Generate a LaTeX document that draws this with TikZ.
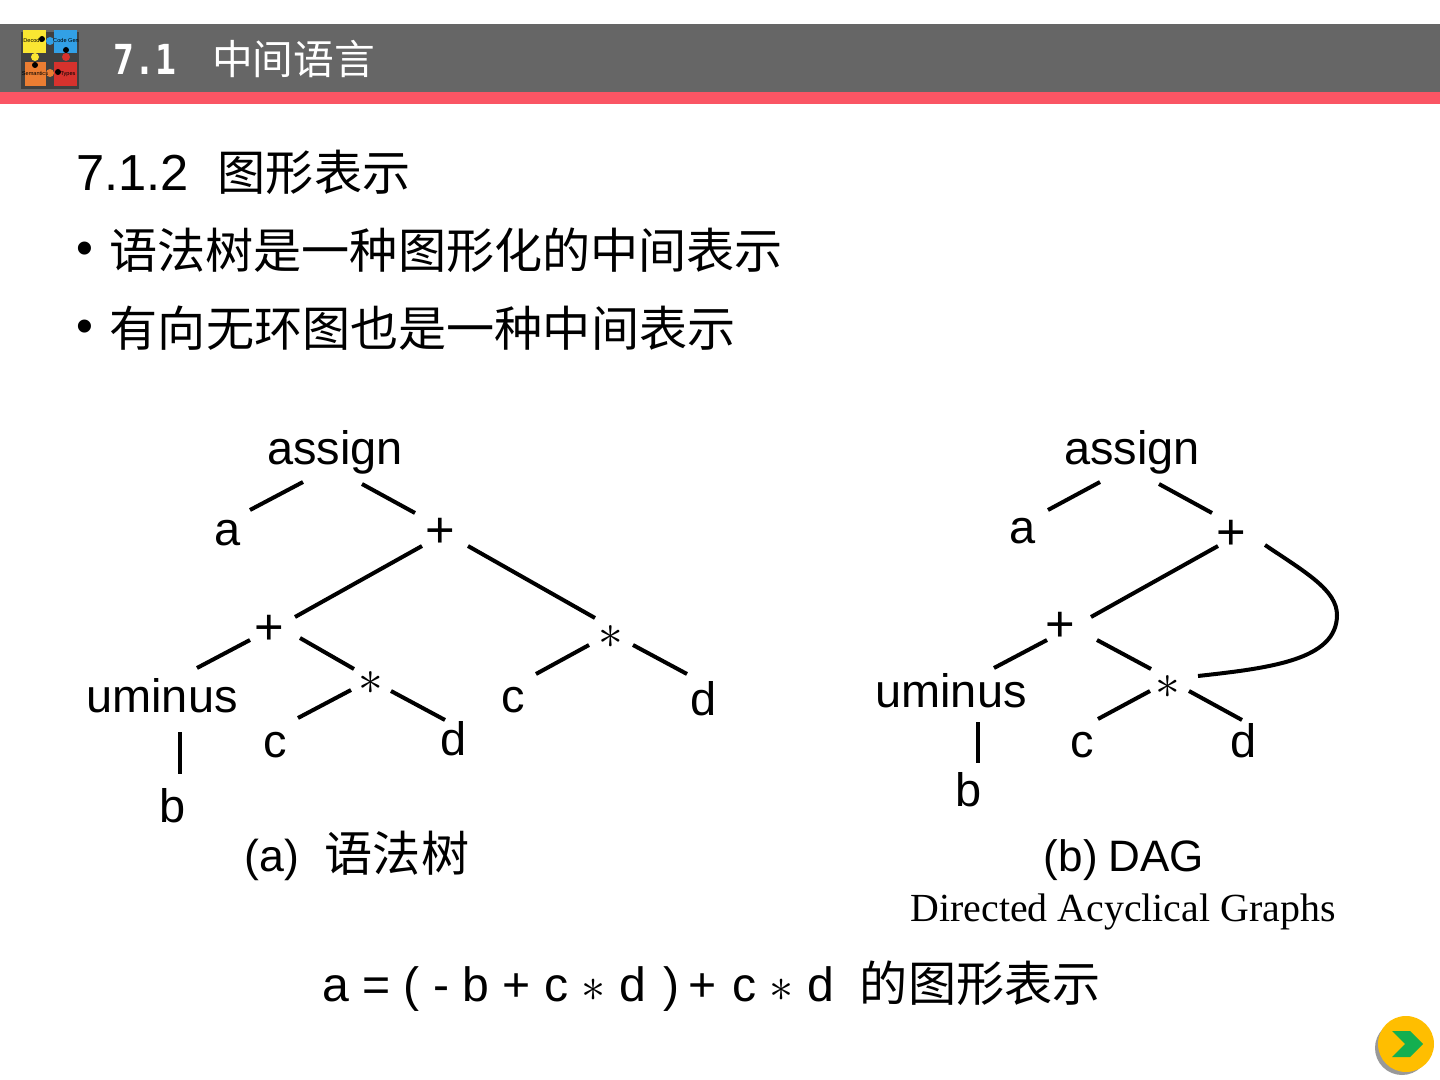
\documentclass[tikz,border=0pt]{standalone}
\usepackage{fix-cm}
\usepackage{fontspec}
\setmainfont{Liberation Sans}
\newfontfamily\cjk{Noto Sans CJK SC}
\newfontfamily\serifrm{Liberation Serif}
\newfontfamily\headmono{DejaVu Sans Mono}
\usepackage{xcolor}
\usetikzlibrary{calc}
\definecolor{hdGray}{RGB}{102, 102, 102}
\definecolor{hdRed}{RGB}{250, 85, 100}
\definecolor{pzYellow}{RGB}{250, 230, 50}
\definecolor{pzBlue}{RGB}{50, 160, 230}
\definecolor{pzOrange}{RGB}{235, 125, 50}
\definecolor{pzRed}{RGB}{215, 50, 45}
\definecolor{btnGold}{RGB}{255, 190, 0}
\definecolor{btnGreen}{RGB}{20, 175, 80}
\newcommand{\opstar}{\hspace{1.5pt}$*$}
\begin{document}
\begin{tikzpicture}[x=0.75pt, y=-0.75pt,
          lbl/.style={inner sep=0pt, text height=28pt, text depth=4.8pt, font=\fontsize{35.2}{40}\selectfont},
          txt/.style={inner sep=0pt, anchor=west, font=\fontsize{36.1}{42}\selectfont},
          opnode/.style={inner sep=0pt, text height=30pt, text depth=4pt, font=\fontsize{38}{40}\selectfont},
          starnode/.style={inner sep=0pt, text height=25pt, text depth=9pt, font=\fontsize{37}{40}\selectfont},
          tag/.style={inner sep=0pt, font=\fontsize{4.2}{5}\selectfont},
          edge/.style={line width=3pt, black}]
        \useasboundingbox (0,0) rectangle (1440,1080);
        \fill[white] (0,0) rectangle (1440,1080);
        % header
        \fill[hdGray] (0,24) rectangle (1440,92);
        \fill[hdRed] (0,92) rectangle (1440,104);
        \fill[black!75] (21,32) rectangle (79,89);
        \fill[pzYellow] (23,30) rectangle (46,53);
        \fill[pzBlue] (54,30) rectangle (77,53);
        \fill[pzOrange] (25,62) rectangle (46,86);
        \fill[pzRed] (54,62) rectangle (77,86);
        \fill[pzBlue] (50,41) circle (4);
        \fill[pzYellow] (35,57) circle (4);
        \fill[pzRed] (66,57) circle (4);
        \fill[pzOrange] (50,73) circle (4);
        \fill[black] (42,39) circle (3);
        \fill[black] (66,50) circle (3);
        \fill[black] (35,65) circle (3);
        \fill[black] (58,72) circle (3);
        \node[tag] (pzA) at (33,41) {Decode};
        \node[tag] (pzB) at (66,41) {Code Gen};
        \node[tag] (pzC) at (35,74) {Semantics};
        \node[tag] (pzD) at (68,74) {Types};
        \node[inner sep=0pt, anchor=west, white, font=\headmono\bfseries\fontsize{31}{34}\selectfont] (hdnum) at (113,59) {\scalebox{0.84}[1]{7.1}};
        \node[inner sep=0pt, anchor=west, white, font=\cjk\fontsize{30.5}{34}\selectfont] (hdtitle) at (212,59) {中间语言};
        % text lines
        \node[txt] (sect) at (76,172) {{\fontsize{38}{42}\selectfont 7.1.2}\hspace{0.6em}{\cjk 图形表示}};
        \node[txt] (dot1) at (76,253) {•};
        \node[txt] (line1) at (109,250) {\cjk 语法树是一种图形化的中间表示};
        \node[txt] (dot2) at (76,331) {•};
        \node[txt] (line2) at (109.5,328) {\cjk 有向无环图也是一种中间表示};
        % tree (a)
        \node[lbl] (aAssign) at (335,449) {assign};
        \node[lbl] (aA) at (228,530) {a};
        \node[opnode] (aPlus) at (440,530) {+};
        \node[opnode] (aPlusB) at (269,627) {+};
        \node[starnode] (aStar) at (610,638) {\opstar};
        \node[lbl] (aUminus) at (162,697) {uminus};
        \node[starnode] (aStarB) at (370,684) {\opstar};
        \node[lbl] (aC) at (513,697) {c};
        \node[lbl] (aD) at (704,700) {d};
        \node[lbl] (aCb) at (275,742) {c};
        \node[lbl] (aDb) at (454,740) {d};
        \node[lbl] (aB) at (173,807) {b};
        \draw[edge] ([shift={(-32,33)}]aAssign.center) -- ([shift={(22,-20)}]aA.center);
        \draw[edge] ([shift={(27,35)}]aAssign.center) -- ([shift={(-25,-17)}]aPlus.center);
        \draw[edge] ([shift={(-18,16)}]aPlus.center) -- ([shift={(26,-10)}]aPlusB.center);
        \draw[edge] ([shift={(28,16)}]aPlus.center) -- ([shift={(-15,-20)}]aStar.center);
        \draw[edge] ([shift={(-19,13)}]aPlusB.center) -- ([shift={(35,-29)}]aUminus.center);
        \draw[edge] ([shift={(31,11)}]aPlusB.center) -- ([shift={(-16,-15)}]aStarB.center);
        \draw[edge] ([shift={(-21,7)}]aStar.center) -- ([shift={(23,-23)}]aC.center);
        \draw[edge] ([shift={(23,7)}]aStar.center) -- ([shift={(-17,-26)}]aD.center);
        \draw[edge] ([shift={(-19,6)}]aStarB.center) -- ([shift={(23,-24)}]aCb.center);
        \draw[edge] ([shift={(21,7)}]aStarB.center) -- ([shift={(-9,-20)}]aDb.center);
        \draw[edge] ([shift={(18,35)}]aUminus.center) -- ([shift={(7,-33)}]aB.center);
        \node[txt, anchor=center] (aCap) at (357,856) {{\fontsize{33.5}{40}\selectfont (a)}\hspace{0.53em}{\cjk 语法树}};
        % DAG (b)
        \node[lbl] (bAssign) at (1132,449) {assign};
        \node[lbl] (bA) at (1023,528) {a};
        \node[opnode] (bPlus) at (1231,532) {+};
        \node[opnode] (bPlusB) at (1060,624) {+};
        \node[starnode] (bStar) at (1167,688) {\opstar};
        \node[lbl] (bUminus) at (951,692) {uminus};
        \node[lbl] (bC) at (1082,742) {c};
        \node[lbl] (bD) at (1244,742) {d};
        \node[lbl] (bB) at (969,791) {b};
        \draw[edge] ([shift={(-32,33)}]bAssign.center) -- ([shift={(25,-18)}]bA.center);
        \draw[edge] ([shift={(27,35)}]bAssign.center) -- ([shift={(-19,-19)}]bPlus.center);
        \draw[edge] ([shift={(-13,14)}]bPlus.center) -- ([shift={(31,-7)}]bPlusB.center);
        \draw[edge] ([shift={(34,13)}]bPlus.center) .. controls ($(bPlus.center)+(74,40)$) and ($(bPlus.center)+(106,58)$) .. ($(bPlus.center)+(106,83)$) .. controls ($(bPlus.center)+(106,128)$) and ($(bStar.center)+(103,-20)$) .. ([shift={(31,-12)}]bStar.center);
        \draw[edge] ([shift={(-13,16)}]bPlusB.center) -- ([shift={(43,-24)}]bUminus.center);
        \draw[edge] ([shift={(37,16)}]bPlusB.center) -- ([shift={(-16,-19)}]bStar.center);
        \draw[edge] ([shift={(-17,3)}]bStar.center) -- ([shift={(16,-23)}]bC.center);
        \draw[edge] ([shift={(22,3)}]bStar.center) -- ([shift={(-2,-22)}]bD.center);
        \draw[edge] ([shift={(27,30)}]bUminus.center) -- ([shift={(9,-28)}]bB.center);
        \node[inner sep=0pt, font=\fontsize{33}{40}\selectfont] (bCap) at (1124,860) {(b)\hspace{0.25em}DAG};
        \node[inner sep=0pt, font=\serifrm\fontsize{29.9}{34}\selectfont] (bSub) at (1123,912) {Directed Acyclical Graphs};
        % formula
        \node[txt] (expr) at (322,986) {a = ( - b + c $*$ d\hspace{3.5pt} )\hspace{-3.5pt} + \hspace{1.5pt}c $*$ d\hspace{0.5em}\hspace{1.5pt}{\cjk 的图形表示}};
        % next button
        \fill[black!40] (1402,1048) circle (27);
        \fill[btnGold] (1406,1044) circle (28);
        \fill[btnGreen] (1392,1031) -- (1410,1031) -- (1423,1044) -- (1410,1057) -- (1392,1057) -- (1405,1044) -- cycle;
      \end{tikzpicture}
\end{document}
